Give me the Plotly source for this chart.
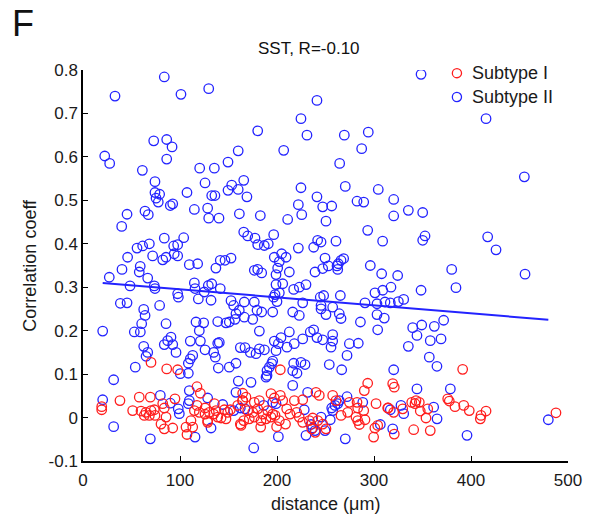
import plotly.graph_objects as go

# ---------------- data ----------------
sub1_x = [70.1, 86.3, 97.6, 117.5, 121, 58, 69.4, 38.1, 19.3, 19.3, 82.2, 83.8, 94.8,
          51.2, 59.8, 64.9, 70.1, 73.5, 63.2, 68.4, 74.2,
          85.6, 80.4, 83.8, 92.5, 107.2, 113.1, 111.3,
          114.8, 119.9, 117.5, 125.8, 125.8, 130.2, 128.5, 134.7, 137.1, 138.9, 142.3, 147.4, 145.7, 135.4, 128.5,
          106.2, 159.5, 164.6, 162.2, 165.7, 149.2, 151.9,
          203.4, 293.5, 290, 319.3, 320.9,
          164.6, 168, 164.6, 176.6, 181.8, 193.8, 203.4, 205.9, 197.3, 217.9, 226.5, 240.2, 243.6, 257.4, 260.8,
          274.6, 282.5, 289.4, 283.2, 302.1, 314.1, 329.6, 320.3,
          169.8, 175, 180.1, 185.3, 190.4, 195.6, 188.7, 193.8, 176.6, 183.5, 171.4, 183.2, 198, 202.4, 210, 213.4,
          220.3, 199.6, 208.8, 222.9, 226.5, 233.3, 236.8, 242, 235.8, 247.1, 239.4, 250.5, 162.9, 266, 272.9,
          281.4, 283.2, 290.7, 284.9, 300.9, 299.6, 303.8, 320.9, 314.7,
          391.4, 338.9, 343.3, 346.7, 342.3, 355.4, 347.7, 353.6, 358, 340.9, 376, 377.6, 383.5, 392.5, 398.2,
          410.3, 409.6, 415.5, 487.6]
sub1_y = [0.127, 0.112, 0.110, 0.071, 0.056, 0.047, 0.047, 0.039, 0.025, 0.018, 0.032, 0.022, 0.043,
          0.016, 0.015, 0.012, 0.016, 0.018, 0.005, 0.005, 0.005,
          0.001, -0.015, -0.026, -0.024, -0.039, -0.022, -0.007,
          0.016, 0.012, 0.028, 0.022, 0.008, 0.012, -0.007, 0.008, 0.016, 0.001, -0.001, -0.003, 0.018, 0.032, -0.011,
          -0.022, 0.028, 0.039, -0.015, -0.007, 0.012, 0.018,
          0.110, 0.079, 0.062, 0.078, 0.070,
          0.056, 0.047, 0.039, 0.035, 0.039, 0.055, 0.051, 0.039, 0.045, 0.039, 0.041, 0.058, 0.051, 0.051, 0.039,
          0.035, 0.035, 0.016, 0.022, 0.032, 0.022, 0.020, 0.012,
          0.016, 0.012, 0.020, 0.008, 0.016, 0.008, -0.003, 0.001, 0.001, -0.007, -0.003, -0.022, 0.005, -0.007, 0.020, 0.008,
          0.012, -0.021, -0.015, 0.001, -0.011, -0.007, -0.001, -0.007, -0.026, -0.015, -0.034, -0.026, -0.018, 0.005, 0.012,
          0.001, -0.007, -0.005, -0.016, -0.024, -0.045, -0.018, -0.038, 0.022,
          0.111, 0.035, 0.039, 0.035, 0.032, 0.020, 0.015, -0.001, -0.030, -0.028, 0.043, 0.038, 0.025, 0.028, 0.016,
          0.005, -0.003, 0.015, 0.011]

sub2_x = [83.8, 33, 101, 129.6, 72.9, 86.3, 91.8, 22.4, 27.5, 86.3, 61.2, 160, 149.5, 120.3, 135.4, 74.2, 125.8,
          165.7, 153.3, 149.5, 160, 107.2, 74.2, 79, 132.7, 136, 169,
          75.3, 77.6, 90, 92.5, 114.8, 128.5, 129.6, 140.2, 161.2, 45.4, 39.9, 63.9, 67.3, 165.7, 83.8, 103.8, 68.4,
          61.5, 55.7, 93.5, 97.6, 71.8, 46, 82.2, 85.6, 94, 97.6, 109.6, 118.2, 137, 141.5, 146.4, 152.6, 59, 58,
          40.2, 66.7, 27.1, 48.5, 73.5, 74.2, 97.6, 98.3, 114.8, 115.5, 125, 129.2, 132.7, 141.5, 118.9, 132, 152.6,
          155.3, 166.3, 38.5, 45.4, 79, 62.6, 64, 60.5, 85.6, 116.5, 124.4, 138.9, 147.4, 150.8, 157.7, 161.1, 156.7,
          20.3, 52.9, 59.1, 119.9, 121, 90.7, 87.3, 83.8, 92.5, 110.6, 138.9, 140.5, 62.6, 66.7, 65, 95.9, 125.8,
          134.7, 136.4, 162.2, 167, 113.1, 110.6, 108.6, 157.7, 53.9, 139.5, 150.8, 108.6, 100.3, 31.6, 160.1, 109.6,
          79.7, 128.5, 157.7, 20.3, 90, 109.6, 108.6, 144, 98.2, 99.3, 162.2, 155.3, 132, 31.6, 115.5, 69.4,
          181.8, 212.7, 204.1, 201.4, 199, 197.2, 234.3, 237.8, 241.2, 247.1, 257.4, 257.4, 255.7, 226.5, 217.8,
          210.3, 274.6, 283.8, 303.8,
          172.5, 178.4, 181.8, 187, 195.6, 194.5, 192.1, 189.7, 189.7, 188.7, 217.2, 224.7, 228.9, 216.2, 220.6,
          253.9, 266.7, 272.2, 173.2, 216.2, 231.6, 320.3, 272.2, 288.4, 186.3, 195.6, 199, 167, 264.2, 262.6,
          259.8, 256.4, 257.4, 228.1, 245.4, 254.9, 235.1, 236.8, 239.2, 249.5, 229.9, 201.4, 270.4, 176, 306.5,
          319.3, 316.8, 327.8,
          339.9, 349.2, 362.2, 371.8, 344.3, 358, 369.1, 335.4, 357, 364.9, 344.3, 378.7, 330.6, 361.5, 365, 479.7, 395.9,
          241.2, 222, 225.5, 211, 182.8, 247.1, 256.4, 250.5, 282.5, 289.4, 320.3, 320.3, 293.5, 308.9,
          169.8, 177.3, 180.1, 186.9, 191, 196.6, 222, 237.8, 241.9, 245.4, 260.8, 197.2, 204.8, 209.3, 202.4,
          200.7, 249.5, 266, 268.7, 263.2, 261.9, 252.9, 247.1, 239.2, 262.6, 176.6, 180.1, 184.2, 199, 212.7,
          296.2, 307.9, 324.4, 199, 205.9, 217.2, 223, 229.9, 198, 202.4, 196.6, 200, 244.6, 248.1, 265.3, 317.5,
          309, 301, 176.6, 226.5, 245.4, 257.4, 290.7, 303.1, 311.3, 316.8, 325.1, 330.6, 179.4, 184.2, 195.6,
          216.2, 223, 245.4, 250.5, 264.2, 266, 175, 166.3, 286, 303.1, 310.6,
          241.2, 224.7, 180.1, 230.9, 269.4, 294.1, 206.9, 287.3, 264.6, 224.7, 270.4, 304.4,
          348.5, 415.5, 455,
          335.4, 350.2, 352.6, 350.2, 417.2, 425.8, 380.1, 455.7, 348.5, 384.5]
sub2_y = [0.784, 0.740, 0.744, 0.757, 0.637, 0.640, 0.623, 0.602, 0.585, 0.595, 0.569, 0.614, 0.588, 0.574, 0.574,
          0.543, 0.540, 0.546, 0.535, 0.523, 0.525, 0.518, 0.518, 0.514, 0.511, 0.511, 0.508,
          0.505, 0.496, 0.488, 0.492, 0.479, 0.482, 0.459, 0.459, 0.469, 0.468, 0.440, 0.475, 0.467, 0.427, 0.413,
          0.414, 0.400, 0.395, 0.390, 0.395, 0.398, 0.372, 0.369, 0.363, 0.369, 0.377, 0.372, 0.352, 0.354, 0.344,
          0.362, 0.362, 0.367, 0.348, 0.335, 0.341, 0.321, 0.323, 0.303, 0.303, 0.297, 0.285, 0.277, 0.310, 0.297,
          0.289, 0.304, 0.308, 0.297, 0.273, 0.270, 0.269, 0.258, 0.266, 0.263, 0.264, 0.258, 0.249, 0.235, 0.216,
          0.216, 0.220, 0.218, 0.221, 0.218, 0.220, 0.239, 0.247, 0.226,
          0.199, 0.197, 0.197, 0.200, 0.176, 0.185, 0.177, 0.168, 0.168, 0.176, 0.171, 0.173, 0.164, 0.150, 0.141,
          0.150, 0.156, 0.150, 0.139, 0.161, 0.161, 0.143, 0.135, 0.125, 0.125, 0.116, 0.114, 0.116, 0.102, 0.101,
          0.087, 0.084, 0.062, 0.051, 0.045, 0.058, 0.041, 0.033, 0.039, 0.032, 0.030, 0.020, 0.009, 0.022, 0.016,
          -0.024, -0.021, -0.045, -0.049,
          0.199, 0.197, 0.184, 0.170, 0.154, 0.176, 0.197, 0.202, 0.184, 0.179, 0.191, 0.176, 0.162, 0.181, 0.170,
          0.162, 0.170, 0.171, 0.202,
          0.150, 0.147, 0.158, 0.156, 0.130, 0.124, 0.116, 0.108, 0.097, 0.093, 0.125, 0.127, 0.122, 0.108, 0.102,
          0.122, 0.110, 0.143, 0.081, 0.074, 0.058, 0.110, 0.048, 0.035, 0.028, 0.035, 0.032, 0.020, 0.039, 0.032,
          0.028, 0.022, 0.016, 0.018, 0.001, -0.005, -0.016, -0.024, -0.030, -0.030, -0.041, -0.044, -0.049, -0.070,
          -0.016, -0.026, 0.018, 0.028,
          0.207, 0.213, 0.210, 0.224, 0.189, 0.177, 0.181, 0.164, 0.139, 0.118, 0.066, 0.066, 0.009, 0.024, -0.003,
          -0.005, -0.041,
          0.508, 0.490, 0.467, 0.456, 0.465, 0.485, 0.487, 0.452, 0.498, 0.496, 0.502, 0.464, 0.431, 0.406,
          0.418, 0.413, 0.398, 0.396, 0.400, 0.421, 0.390, 0.392, 0.408, 0.404, 0.406, 0.369, 0.377, 0.369, 0.359,
          0.344, 0.367, 0.362, 0.366, 0.354, 0.349, 0.349, 0.343, 0.335, 0.341, 0.339, 0.341, 0.333, 0.329, 0.335,
          0.350, 0.331, 0.327, 0.306, 0.308, 0.295, 0.300, 0.306, 0.283, 0.287, 0.277, 0.267, 0.277, 0.281, 0.281,
          0.300, 0.293, 0.287, 0.266, 0.264, 0.258, 0.254, 0.264, 0.262, 0.266, 0.264, 0.267, 0.272, 0.247, 0.243,
          0.243, 0.243, 0.235, 0.250, 0.237, 0.239, 0.228, 0.226, 0.231, 0.220, 0.237, 0.229,
          0.730, 0.688, 0.660, 0.650, 0.650, 0.657, 0.615, 0.619, 0.585, 0.529, 0.532, 0.525,
          0.790, 0.688, 0.554,
          0.477, 0.472, 0.418, 0.408, 0.416, 0.386, 0.341, 0.330, 0.293, 0.299]

# linear fit of Subtype II (coefficients)
fit_intercept = 0.3136
fit_slope = -0.0001845

panel_label = "F"
title_text = "SST, R=-0.10"
x_title = "distance (μm)"
y_title = "Correlation coeff"
series_names = ["Subtype I", "Subtype II"]
x_ticks = [0, 100, 200, 300, 400, 500]
y_ticks = [-0.1, 0, 0.1, 0.2, 0.3, 0.4, 0.5, 0.6, 0.7, 0.8]
y_tick_text = ["-0.1", "0", "0.1", "0.2", "0.3", "0.4", "0.5", "0.6", "0.7", "0.8"]

RED = "rgb(255,30,30)"
BLUE = "rgb(35,35,255)"
FONT = "Arial, Liberation Sans, sans-serif"
TXT = "#1a1a1a"

fit_x = [min(sub2_x), max(sub2_x)]
fit_y = [fit_intercept + fit_slope * v for v in fit_x]

fig = go.Figure()
fig.add_trace(go.Scatter(
    x=sub2_x, y=sub2_y, mode="markers", name=series_names[1], showlegend=False,
    marker=dict(symbol="circle-open", size=9.5, color=BLUE, line=dict(width=1.3, color=BLUE)),
))
fig.add_trace(go.Scatter(
    x=sub1_x, y=sub1_y, mode="markers", name=series_names[0], showlegend=False,
    marker=dict(symbol="circle-open", size=9.5, color=RED, line=dict(width=1.3, color=RED)),
))
fig.add_trace(go.Scatter(
    x=fit_x, y=fit_y, mode="lines", showlegend=False,
    line=dict(color=BLUE, width=2),
))

axis_common = dict(
    showline=True, linecolor="black", linewidth=1.5, mirror=False,
    ticks="inside", ticklen=5, tickwidth=1.3, tickcolor="black",
    showgrid=False, zeroline=False,
    tickfont=dict(family=FONT, size=17, color=TXT),
)
fig.update_xaxes(range=[0, 500], tickvals=x_ticks, ticklabelstandoff=3, **axis_common)
fig.update_yaxes(range=[-0.1, 0.8], tickvals=y_ticks, ticktext=y_tick_text, **axis_common)

# legend drawn as circle + text inside the top-right of the axes
legend_colors = [RED, BLUE]
legend_y = [0.992, 0.931]
shapes = []
annotations = []
for name, col, ly in zip(series_names, legend_colors, legend_y):
    shapes.append(dict(type="circle", xref="paper", yref="paper",
                       xsizemode="pixel", ysizemode="pixel",
                       xanchor=0.771, yanchor=ly, x0=-4.6, x1=4.6, y0=-4.6, y1=4.6,
                       line=dict(color=col, width=1.3), fillcolor="rgba(0,0,0,0)"))
    annotations.append(dict(text=name, x=0.798, y=ly, xref="paper", yref="paper",
                            showarrow=False, xanchor="left", yanchor="middle",
                            font=dict(family=FONT, size=18, color=TXT)))

annotations += [
    dict(text=title_text, x=0.466, y=1.056, xref="paper", yref="paper",
         showarrow=False, xanchor="center", yanchor="middle",
         font=dict(family=FONT, size=17, color="#111")),
    dict(text=panel_label, x=-0.123, y=1.12, xref="paper", yref="paper",
         showarrow=False, xanchor="center", yanchor="middle",
         font=dict(family=FONT, size=36, color="#111")),
    dict(text=y_title, x=-0.111, y=0.5, xref="paper", yref="paper", textangle=-90,
         showarrow=False, xanchor="center", yanchor="middle",
         font=dict(family=FONT, size=18, color=TXT)),
    dict(text=x_title, x=0.5, y=-0.11, xref="paper", yref="paper",
         showarrow=False, xanchor="center", yanchor="middle",
         font=dict(family=FONT, size=18, color=TXT)),
]

fig.update_layout(
    width=610, height=517,
    margin=dict(l=83, r=42, t=70, b=56),
    plot_bgcolor="white", paper_bgcolor="white",
    font=dict(family=FONT, size=17, color=TXT),
    showlegend=False,
    shapes=shapes,
    annotations=annotations,
)

fig.write_html("out.html")
